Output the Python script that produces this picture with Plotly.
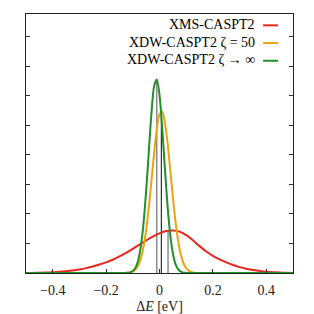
import plotly.graph_objects as go

# ---- data ----
x_red = [-0.5, -0.475, -0.45, -0.425, -0.4, -0.375, -0.35, -0.325, -0.3, -0.275,
         -0.25, -0.225, -0.2, -0.175, -0.15, -0.125, -0.1, -0.075, -0.05, -0.025,
         0.0, 0.025, 0.05, 0.075, 0.1, 0.125, 0.15, 0.175, 0.2, 0.225,
         0.25, 0.275, 0.3, 0.325, 0.35, 0.375, 0.4, 0.425, 0.45, 0.475, 0.5]
y_red = [0.0, 0.003, 0.007, 0.013, 0.025, 0.04, 0.06, 0.085, 0.12, 0.165,
         0.22, 0.285, 0.36, 0.45, 0.56, 0.68, 0.82, 0.96, 1.10, 1.23,
         1.34, 1.42, 1.44, 1.40, 1.28, 1.11, 0.91, 0.73, 0.58, 0.46,
         0.36, 0.27, 0.20, 0.145, 0.10, 0.07, 0.045, 0.028, 0.016, 0.008, 0.003]

x_narrow = [-0.5, -0.14, -0.13, -0.12, -0.11, -0.10, -0.09, -0.08, -0.07, -0.06, -0.05,
            -0.04, -0.03, -0.02, -0.01, 0.0, 0.01, 0.02, 0.03, 0.04, 0.05, 0.06,
            0.07, 0.08, 0.09, 0.10, 0.11, 0.12, 0.13, 0.14, 0.5]
y_orange = [0.0, 0.0, 0.001, 0.008, 0.021, 0.051, 0.118, 0.25, 0.49, 0.88, 1.45,
            2.22, 3.13, 4.07, 4.87, 5.37, 5.46, 5.11, 4.42, 3.51, 2.58, 1.74,
            1.08, 0.62, 0.33, 0.16, 0.072, 0.030, 0.011, 0.004, 0.0]
y_green = [0.0, 0.0, 0.001, 0.006, 0.022, 0.066, 0.177, 0.42, 0.89, 1.67, 2.78,
           4.12, 5.42, 6.33, 6.55, 6.03, 4.93, 3.57, 2.30, 1.32, 0.67, 0.30,
           0.12, 0.043, 0.013, 0.004, 0.001, 0.0, 0.0, 0.0, 0.0]

names = ["XMS-CASPT2", "XDW-CASPT2 ζ = 50", "XDW-CASPT2 ζ → ∞"]
colors = ["#e8261c", "#eba40d", "#23902a"]
means = [0.032, 0.007, -0.0101]
peaks = [1.44, 5.48, 6.57]
mean_colors = ["#707070", "#303030", "#707070"]

x_ticks = [-0.4, -0.2, 0.0, 0.2, 0.4]
x_tick_text = ["−0.4", "−0.2", "0", "0.2", "0.4"]

fig = go.Figure()

for m, p, c in zip(means, peaks, mean_colors):
    fig.add_trace(go.Scatter(x=[m, m], y=[0, p], mode="lines",
                             line=dict(color=c, width=1.2), showlegend=False,
                             hoverinfo="skip"))

series = [(x_red, y_red), (x_narrow, y_orange), (x_narrow, y_green)]
for (xs, ys), c, n in zip(series, colors, names):
    fig.add_trace(go.Scatter(x=xs, y=ys, mode="lines", name=n,
                             line=dict(color=c, width=2, shape="spline", smoothing=0.8),
                             showlegend=False))

# legend drawn as right-aligned text with a line sample on its right
row_y = [0.9563, 0.8879, 0.8195]
for n, c, yy in zip(names, colors, row_y):
    fig.add_annotation(xref="paper", yref="paper", x=0.866, y=yy + 0.003, text=n,
                       showarrow=False, xanchor="right", yanchor="middle",
                       font=dict(family="Liberation Serif", size=14, color="#000"))
    fig.add_shape(type="line", xref="paper", yref="paper", x0=0.888, x1=0.944,
                  y0=yy, y1=yy, line=dict(color=c, width=2))

font = dict(family="Liberation Serif", size=14, color="#222")
fig.update_layout(
    width=314, height=314,
    margin=dict(l=26, r=21, t=14, b=41, autoexpand=False),
    paper_bgcolor="white", plot_bgcolor="white",
    font=font,
    showlegend=False,
)
fig.update_xaxes(range=[-0.5, 0.5], tickvals=x_ticks, ticktext=x_tick_text,
                 ticks="inside", ticklen=4, tickcolor="#333", tickwidth=1,
                 ticklabelstandoff=4, automargin=False,
                 showline=True, linecolor="#222", linewidth=1, mirror=True,
                 showgrid=False, zeroline=False,
                 title=dict(text="Δ<i>E</i> [eV]", standoff=6, font=font),
                 tickfont=font)
fig.update_yaxes(range=[0, 8.77], dtick=1, tick0=0, showticklabels=False,
                 ticks="inside", ticklen=4, tickcolor="#333", tickwidth=1,
                 automargin=False,
                 showline=True, linecolor="#222", linewidth=1, mirror="ticks",
                 showgrid=False, zeroline=False)

fig.write_html("out.html", config={"displayModeBar": False},
               post_script="document.body.style.margin='0';document.body.style.overflow='hidden';")
